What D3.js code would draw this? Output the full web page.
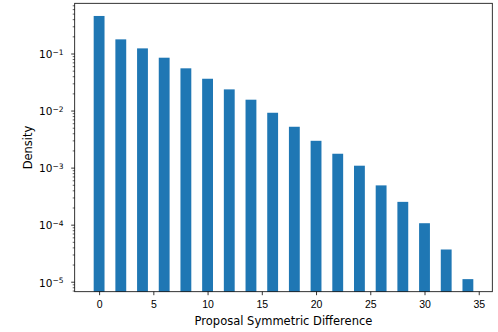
<!DOCTYPE html>
<html>
<head>
<meta charset="utf-8">
<script src="https://cdn.jsdelivr.net/npm/d3@7"></script>
<style>
  body { margin: 0; background: #fff; }
  svg { font-family: "DejaVu Sans", sans-serif; }
</style>
</head>
<body>
<svg id="chart"></svg>
<script>
// chart data
const diffs = [0, 2, 4, 6, 8, 10, 12, 14, 16, 18, 20, 22, 24, 26, 28, 30, 32, 34];
const density = [0.455, 0.177, 0.123, 0.0844, 0.055, 0.0361, 0.0235, 0.0155, 0.00915,
                 0.0052, 0.00295, 0.00175, 0.00108, 0.000488, 0.000251, 0.000106, 3.67e-5, 1.11e-5];
const xTicks = [0, 5, 10, 15, 20, 25, 30, 35];
const yDecades = [-5, -4, -3, -2, -1];

const width = 498, height = 332;
const margin = { top: 3.3, right: 5.7, bottom: 40.3, left: 74.7 };

const svg = d3.select('#chart')
    .attr('width', width)
    .attr('height', height);

const x = d3.scaleLinear().domain([-2.25, 36.25]).range([margin.left, width - margin.right]);
const y = d3.scaleLog().domain([Math.pow(10, -5.175), Math.pow(10, -0.12)])
    .range([height - margin.bottom, margin.top]);

const barWidth = 1;

svg.append('g')
    .selectAll('rect')
    .data(diffs)
    .enter().append('rect')
    .attr('x', (d) => x(d - barWidth / 2))
    .attr('width', (d) => x(barWidth) - x(0))
    .attr('y', (d, i) => y(density[i]))
    .attr('height', (d, i) => y.range()[0] - y(density[i]))
    .style('fill', '#1f77b4');

// x axis
const xAxis = d3.axisBottom(x).tickValues(xTicks).tickSize(3.5).tickPadding(5).tickFormat(d3.format('d'));
const gx = svg.append('g')
    .attr('transform', 'translate(0,' + (height - margin.bottom) + ')')
    .call(xAxis);
gx.select('.domain').remove();
gx.selectAll('line').attr('stroke', '#000').attr('stroke-width', 0.8);
gx.selectAll('text').style('font-size', '10.5px').attr('fill', '#000');

// y axis: minor ticks
const minor = [];
for (let e = -6; e <= 0; e++) {
    for (let m = 2; m <= 9; m++) {
        const v = m * Math.pow(10, e);
        if (v >= y.domain()[0] && v <= y.domain()[1]) minor.push(v);
    }
}
const gyMinor = svg.append('g')
    .attr('transform', 'translate(' + margin.left + ',0)')
    .call(d3.axisLeft(y).tickValues(minor).tickSize(2).tickFormat(''));
gyMinor.select('.domain').remove();
gyMinor.selectAll('line').attr('stroke', '#000').attr('stroke-width', 0.6);

// y axis: major ticks with 10^n labels
const gy = svg.append('g')
    .attr('transform', 'translate(' + margin.left + ',0)')
    .call(d3.axisLeft(y).tickValues(yDecades.map(e => Math.pow(10, e))).tickSize(3.5).tickFormat(''));
gy.select('.domain').remove();
gy.selectAll('line').attr('stroke', '#000').attr('stroke-width', 0.8);

const ylab = svg.append('g')
    .selectAll('text')
    .data(yDecades)
    .enter().append('text')
    .attr('x', 63.5)
    .attr('y', (e) => y(Math.pow(10, e)) + 4.8)
    .attr('text-anchor', 'end')
    .style('font-size', '10.5px')
    .attr('fill', '#000');
ylab.append('tspan').text('10');
ylab.append('tspan')
    .attr('dy', -3.6)
    .style('font-size', '7.5px')
    .text((e) => '\u2212' + Math.abs(e));

// frame
svg.append('rect')
    .attr('x', margin.left)
    .attr('y', margin.top)
    .attr('width', width - margin.left - margin.right)
    .attr('height', height - margin.top - margin.bottom)
    .style('fill', 'none')
    .style('stroke', '#000')
    .style('stroke-width', 0.8);

// axis labels
svg.append('text')
    .attr('x', (margin.left + width - margin.right) / 2)
    .attr('y', 324.5)
    .attr('text-anchor', 'middle')
    .style('font-size', '11.5px')
    .text('Proposal Symmetric Difference');

svg.append('text')
    .attr('transform', 'translate(32,' + ((margin.top + height - margin.bottom) / 2) + ') rotate(-90)')
    .attr('text-anchor', 'middle')
    .style('font-size', '11.5px')
    .text('Density');
</script>
</body>
</html>
